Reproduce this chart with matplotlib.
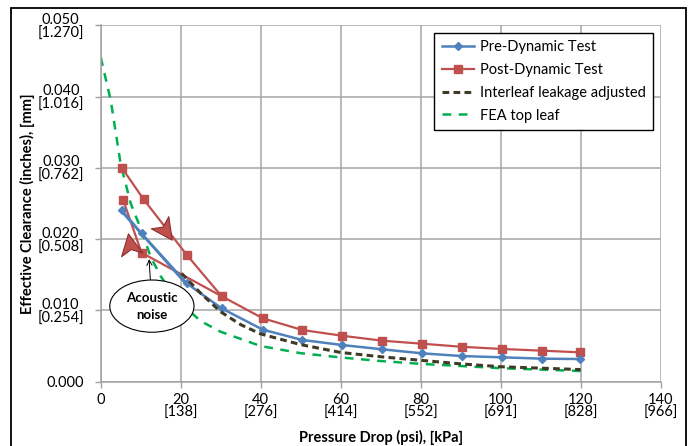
import numpy as np
import matplotlib.pyplot as plt
from matplotlib.path import Path
from matplotlib.markers import MarkerStyle
from matplotlib.transforms import Affine2D
from matplotlib.patches import Rectangle

plt.rcParams['font.family'] = ['Lato', 'DejaVu Sans']

# Pre-Dynamic test (pressure increasing, then the return leg at low pressure)
pre_x = [5.2, 10.2, 21.5, 30.2, 40.5, 50.4, 60.3, 70.4, 80.3, 90.2, 100.3, 110.4, 119.8]
pre_y = [0.0241, 0.0208, 0.0138, 0.0103, 0.0073, 0.00585, 0.00515, 0.00454, 0.00398,
         0.00360, 0.00342, 0.00323, 0.00318]
pre_ret_x = [21.5, 5.2]
pre_ret_y = [0.0136, 0.0239]

# Post-Dynamic test
post_x = [5.3, 10.7, 21.5, 30.2, 40.5, 50.4, 60.3, 70.4, 80.3, 90.2, 100.3, 110.4, 119.8]
post_y = [0.0300, 0.0256, 0.0178, 0.0120, 0.0089, 0.00725, 0.00645, 0.00575, 0.00533,
          0.00490, 0.00459, 0.00435, 0.00412]
post_ret_x = [30.2, 10.2, 5.6]
post_ret_y = [0.0120, 0.0181, 0.0255]

# Interleaf leakage adjusted
leak_x = [20.2, 25, 30, 35, 40, 50, 60, 70, 80, 90, 100, 110, 120]
leak_y = [0.0152, 0.0124, 0.0098, 0.0080, 0.0067, 0.0052, 0.0041, 0.0035, 0.0030,
          0.0025, 0.0021, 0.0019, 0.0017]

# FEA top leaf
fea_x = [0, 2.5, 5, 7.5, 10, 12.5, 15, 17.5, 20, 25, 30, 40, 50, 60, 70, 80, 90, 100, 110, 120]
fea_y = [0.0455, 0.0395, 0.0305, 0.0250, 0.0215, 0.0175, 0.0148, 0.0127, 0.0110, 0.0085,
         0.0070, 0.0050, 0.0040, 0.0034, 0.0029, 0.0025, 0.0022, 0.0019, 0.0017, 0.0015]

xticks = [0, 20, 40, 60, 80, 100, 120, 140]
xlabels = ['0', '20\n[138]', '40\n[276]', '60\n[414]', '80\n[552]', '100\n[691]', '120\n[828]', '140\n[966]']
yticks = [0.0, 0.01, 0.02, 0.03, 0.04, 0.05]
ylabels = ['0.000', '0.010\n[0.254]', '0.020\n[0.508]', '0.030\n[0.762]', '0.040\n[1.016]', '0.050\n[1.270]']

BLUE = '#4F81BD'
RED = '#C0504D'
OLIVE = '#403A26'
GREEN = '#00B050'

fig = plt.figure(figsize=(6.91, 4.46), dpi=100)
fig.patches.append(Rectangle((11 / 691, -0.05), (686 - 11) / 691, 1.05 - 7.5 / 446,
                             transform=fig.transFigure, fill=False, ec='black', lw=1.3))
ax = fig.add_axes([100.7 / 691, 64.3 / 446, 560 / 691, 356.5 / 446])

ax.plot(pre_x, pre_y, color=BLUE, lw=1.8, marker='D', ms=4, label='Pre-Dynamic Test', zorder=4)
ax.plot(pre_ret_x, pre_ret_y, color=BLUE, lw=1.8, zorder=4)
ax.plot(post_x, post_y, color=RED, lw=1.6, marker='s', ms=6, label='Post-Dynamic Test', zorder=3)
ax.plot(post_ret_x, post_ret_y, color=RED, lw=1.6, marker='s', ms=6, markevery=[1, 2], zorder=3)
ax.plot(leak_x, leak_y, color=OLIVE, lw=2.2, ls=(0, (2.2, 1.4)), label='Interleaf leakage adjusted', zorder=5)
ax.plot(fea_x, fea_y, color=GREEN, lw=1.8, ls=(0, (3.5, 3)), label='FEA top leaf', zorder=2)

# direction arrows on the hysteresis loop
head = Path([(1, 0), (-0.8, 0.9), (-0.35, 0), (-0.8, -0.9), (1, 0)],
            [Path.MOVETO, Path.LINETO, Path.LINETO, Path.LINETO, Path.CLOSEPOLY])
for ax_x, ax_y, ang in [(16.1, 0.0213, -55), (7.3, 0.0192, 100)]:
    m = MarkerStyle(head, transform=Affine2D().rotate_deg(ang))
    ax.plot([ax_x], [ax_y], marker=m, ms=17, color=RED, mec='#8C2E2B', mew=0.8, zorder=6)

ax.annotate('Acoustic\nnoise', xy=(12.1, 0.0172), xytext=(12.8, 0.0106),
            ha='center', va='center', fontsize=9.5, fontweight='bold', linespacing=1.5,
            bbox=dict(boxstyle='ellipse,pad=0.3', fc='white', ec='black', lw=0.8),
            arrowprops=dict(arrowstyle='->', color='black', lw=0.7, shrinkA=0, shrinkB=0),
            zorder=7)

ax.set_xlim(0, 140)
ax.set_ylim(0, 0.05)
ax.set_xticks(xticks)
ax.set_xticklabels(xlabels, fontsize=10.5, linespacing=0.95)
ax.set_yticks(yticks)
ax.set_yticklabels(ylabels, fontsize=10.5, linespacing=1.0, multialignment='center')
ax.tick_params(direction='out', length=4, color='#A0A0A0', width=1)
ax.tick_params(axis='y', pad=8)
ax.tick_params(axis='x', pad=4)
ax.grid(True, color='#A6A6A6', lw=1.1)
ax.set_axisbelow(True)
for s in ['top', 'right']:
    ax.spines[s].set_visible(False)
for s in ['left', 'bottom']:
    ax.spines[s].set_color('#A0A0A0')
    ax.spines[s].set_linewidth(1.1)

ax.set_xlabel('Pressure Drop (psi), [kPa]', fontsize=10.5, fontweight='bold')
ax.set_ylabel('Effective Clearance (inches), [mm]', fontsize=10.5, fontweight='bold')
ax.yaxis.set_label_coords((27 - 100.7) / 560, 0.5)
ax.xaxis.set_label_coords(0.5, -(437 - 381.7) / 356.5)
ax.xaxis.label.set_va('center')
ax.yaxis.label.set_va('center')

leg = ax.legend(loc='upper right', bbox_to_anchor=(652.7 / 691, 413 / 446), bbox_transform=fig.transFigure,
                fontsize=10.5, frameon=True, fancybox=False, edgecolor='black', framealpha=1,
                handlelength=2.2, borderpad=0.5, labelspacing=0.6, handletextpad=0.4, borderaxespad=0)
leg.get_frame().set_linewidth(1.0)

fig.savefig('out.png', dpi=100)
